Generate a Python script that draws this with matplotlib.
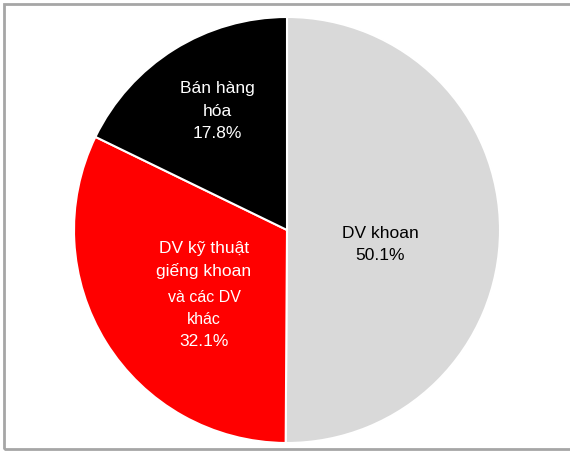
import matplotlib
matplotlib.use("Agg")
import matplotlib.pyplot as plt
from matplotlib.patches import Rectangle

categories = ["DV khoan", "DV kỹ thuật giếng khoan và các DV khác", "Bán hàng hóa"]
values = [50.1, 32.1, 17.8]
colors = ["#d9d9d9", "#ff0000", "#000000"]

plt.rcParams['font.family'] = ['Liberation Sans', 'DejaVu Sans']

fig = plt.figure(figsize=(5.70, 4.51), dpi=100)
ax = fig.add_axes([0, 0, 1, 1])

cx, cy, r = 287, 230, 213
# y axis is inverted (pixel coords), so startangle=-90 points up and
# counterclock=True runs visually clockwise
wedges, _ = ax.pie(values, colors=colors, startangle=-90, counterclock=True,
                   center=(cx, cy), radius=r, frame=True,
                   wedgeprops=dict(edgecolor='white', linewidth=1.5))
ax.set_xlim(0, 570)
ax.set_ylim(451, 0)
ax.set_aspect('equal')
ax.axis('off')

# border (left, top, bottom; right edge off-canvas)
fig.patches.append(Rectangle((3.5/570, 2/451), 1.05, 1 - 5.5/451, transform=fig.transFigure,
                             fill=False, edgecolor='#a6a6a6', linewidth=2))

fs = 12.5
# DV khoan
ax.text(380, 233, categories[0], color='black', fontsize=fs, ha='center', va='center')
ax.text(380, 255, f"{values[0]:.1f}%", color='black', fontsize=fs, ha='center', va='center')
# Bán hàng hóa
ax.text(217, 89, "Bán hàng", color='white', fontsize=fs, ha='center', va='center')
ax.text(217, 111, "hóa", color='white', fontsize=fs, ha='center', va='center')
ax.text(217, 133, f"{values[2]:.1f}%", color='white', fontsize=fs, ha='center', va='center')
# red
ax.text(204, 249, "DV kỹ thuật", color='white', fontsize=fs, ha='center', va='center')
ax.text(204, 271, "giếng khoan", color='white', fontsize=fs, ha='center', va='center')
ax.text(204, 298, "và các DV", color='white', fontsize=fs - 1, ha='center', va='center')
ax.text(204, 319, "khác", color='white', fontsize=fs - 1, ha='center', va='center')
ax.text(204, 342, f"{values[1]:.1f}%", color='white', fontsize=fs, ha='center', va='center')

fig.savefig("out.png", dpi=100)
